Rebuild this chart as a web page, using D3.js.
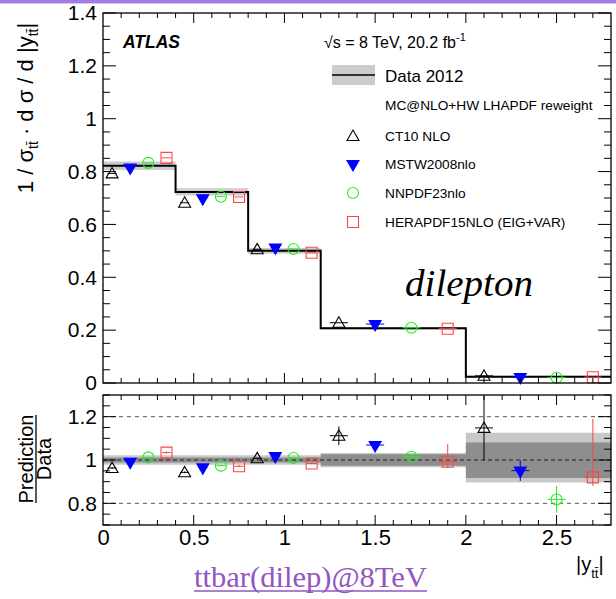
<!DOCTYPE html>
<html>
<head>
<meta charset="utf-8">
<script src="https://cdn.jsdelivr.net/npm/d3@7"></script>
<style>
  html, body { margin: 0; padding: 0; background: #fff; }
  svg { display: block; font-family: "Liberation Sans", Arial, Helvetica, sans-serif; }
</style>
</head>
<body>
<svg id="chart" width="616" height="599"></svg>
<script>
// ---------------- DATA ----------------
const binEdges = [0, 0.4, 0.8, 1.2, 2.0, 2.8];
const dataVals = [0.822, 0.723, 0.500, 0.207, 0.024];
const dataErr  = [0.016, 0.014, 0.011, 0.005, 0.003];

// ratio-panel uncertainty bands of data (up, down)
const bandInnerUp   = [0.012, 0.012, 0.012, 0.027, 0.081];
const bandInnerDown = [0.012, 0.012, 0.012, 0.027, 0.083];
const bandOuterUp   = [0.022, 0.022, 0.022, 0.032, 0.126];
const bandOuterDown = [0.022, 0.022, 0.022, 0.034, 0.104];

const seriesNames = ["CT10 NLO", "MSTW2008nlo", "NNPDF23nlo", "HERAPDF15NLO (EIG+VAR)"];

const ct10X   = [0.05, 0.45, 0.85, 1.3, 2.1];
const mstwX   = [0.15, 0.55, 0.95, 1.5, 2.3];
const nnpdfX  = [0.25, 0.65, 1.05, 1.7, 2.5];
const heraX   = [0.35, 0.75, 1.15, 1.9, 2.7];
const xErrHalf = [0.025, 0.025, 0.025, 0.05, 0.05];

const ct10Val  = [0.793, 0.682, 0.506, 0.228, 0.027];
const mstwVal  = [0.815, 0.699, 0.513, 0.223, 0.023];
const nnpdfVal = [0.833, 0.705, 0.507, 0.209, 0.020];
const heraVal  = [0.852, 0.704, 0.493, 0.2055, 0.022];

const ct10Ratio  = [0.963, 0.943, 1.008, 1.112, 1.148];
const mstwRatio  = [0.992, 0.966, 1.018, 1.069, 0.951];
const nnpdfRatio = [1.012, 0.974, 1.009, 1.015, 0.818];
const heraRatio  = [1.034, 0.971, 0.984, 0.992, 0.920];

const ct10RatioUp    = [0.004, 0.004, 0.004, 0.043, 0.150];
const ct10RatioDown  = [0.004, 0.004, 0.004, 0.043, 0.150];
const mstwRatioUp    = [0.003, 0.003, 0.003, 0.010, 0.048];
const mstwRatioDown  = [0.003, 0.003, 0.003, 0.010, 0.048];
const nnpdfRatioUp   = [0.003, 0.003, 0.003, 0.010, 0.062];
const nnpdfRatioDown = [0.003, 0.003, 0.003, 0.010, 0.062];
const heraRatioUp    = [0.006, 0.006, 0.006, 0.082, 0.270];
const heraRatioDown  = [0.004, 0.004, 0.004, 0.026, 0.040];

const topYTicks   = [0, 0.2, 0.4, 0.6, 0.8, 1, 1.2, 1.4];
const ratioYTicks = [0.8, 1, 1.2];
const xTickVals   = [0, 0.5, 1, 1.5, 2, 2.5];

// ---------------- LAYOUT ----------------
const SERIF = '"Liberation Serif", "Times New Roman", serif';
const svg = d3.select("#chart");
const left = 103, right = 611;
const topY0 = 13, topY1 = 383;
const botY0 = 395, botY1 = 525;

const x  = d3.scaleLinear().domain([0, 2.8]).range([left, right]);
const yT = d3.scaleLinear().domain([0, 1.4]).range([topY1, topY0]);
const yR = d3.scaleLinear().domain([0.7, 1.3]).range([botY1, botY0]);

// purple bar at very top
svg.append("rect").attr("x", 0).attr("y", 0).attr("width", 616).attr("height", 3).attr("fill", "#a57bde");
svg.append("rect").attr("x", 0).attr("y", 3).attr("width", 616).attr("height", 1).attr("fill", "#d9c6f2");

const series = [
  { name: seriesNames[0], xs: ct10X,  v: ct10Val,  r: ct10Ratio,  up: ct10RatioUp,  dn: ct10RatioDown,  color: "#000000", type: "tri",  fill: "none" },
  { name: seriesNames[1], xs: mstwX,  v: mstwVal,  r: mstwRatio,  up: mstwRatioUp,  dn: mstwRatioDown,  color: "#0000ff", type: "itri", fill: "#0000ff" },
  { name: seriesNames[2], xs: nnpdfX, v: nnpdfVal, r: nnpdfRatio, up: nnpdfRatioUp, dn: nnpdfRatioDown, color: "#22ee22", type: "circ", fill: "none" },
  { name: seriesNames[3], xs: heraX,  v: heraVal,  r: heraRatio,  up: heraRatioUp,  dn: heraRatioDown,  color: "#ff4444", type: "sq",   fill: "none" }
];

function markerPath(type) {
  if (type === "tri" || type === "itri") return d3.symbol().type(d3.symbolTriangle).size(62)();
  if (type === "circ") return d3.symbol().type(d3.symbolCircle).size(95)();
  return d3.symbol().type(d3.symbolSquare).size(121)();
}
function drawMarker(g, cx, cy, s) {
  return g.append("path").attr("d", markerPath(s.type))
    .attr("transform", `translate(${cx},${cy})` + (s.type === "itri" ? " rotate(180)" : "") + (s.type === "tri" ? " translate(0,1)" : ""))
    .attr("stroke", s.color).attr("stroke-width", 1.1)
    .attr("fill", s.fill);
}

// ---------------- TOP PANEL ----------------
const topG = svg.append("g");
const stepData = dataVals.map((v, i) => ({ x: binEdges[i], v: v, e: dataErr[i] }));
stepData.push({ x: binEdges[binEdges.length - 1], v: dataVals[dataVals.length - 1], e: dataErr[dataErr.length - 1] });

topG.append("path").datum(stepData)
  .attr("d", d3.area().curve(d3.curveStepAfter).x(d => x(d.x)).y0(d => yT(d.v - d.e)).y1(d => yT(d.v + d.e)))
  .attr("fill", "#cccccc");
topG.append("path").datum(stepData)
  .attr("d", d3.line().curve(d3.curveStepAfter).x(d => x(d.x)).y(d => yT(d.v)))
  .attr("fill", "none").attr("stroke", "#000").attr("stroke-width", 2);

series.forEach(s => {
  s.xs.forEach((xv, i) => {
    topG.append("line").attr("x1", x(xv - xErrHalf[i])).attr("x2", x(xv + xErrHalf[i]))
      .attr("y1", yT(s.v[i])).attr("y2", yT(s.v[i])).attr("stroke", s.color).attr("stroke-width", 1);
    drawMarker(topG, x(xv), yT(s.v[i]), s);
  });
});

// frame + ticks
function frame(g, y0, y1) {
  g.append("rect").attr("x", left).attr("y", y0).attr("width", right - left).attr("height", y1 - y0)
    .attr("fill", "none").attr("stroke", "#000").attr("stroke-width", 1.3);
}
function xTicks(g, y0, y1, majLen, minLen) {
  const minors = d3.range(1, 28).map(i => i / 10);
  minors.forEach(t => {
    const isMaj = Math.abs(t * 2 - Math.round(t * 2)) < 1e-6;
    const len = isMaj ? majLen : minLen;
    g.append("line").attr("x1", x(t)).attr("x2", x(t)).attr("y1", y1).attr("y2", y1 - len).attr("stroke", "#000").attr("stroke-width", 1);
    g.append("line").attr("x1", x(t)).attr("x2", x(t)).attr("y1", y0).attr("y2", y0 + len).attr("stroke", "#000").attr("stroke-width", 1);
  });
}
function yTicks(g, scale, lo, hi, majorStep, majLen, minLen) {
  const n = Math.round((hi - lo) / 0.05);
  for (let i = 0; i <= n; i++) {
    const t = lo + i * 0.05;
    const isMaj = Math.abs(t / majorStep - Math.round(t / majorStep)) < 1e-6;
    const len = isMaj ? majLen : minLen;
    g.append("line").attr("x1", left).attr("x2", left + len).attr("y1", scale(t)).attr("y2", scale(t)).attr("stroke", "#000").attr("stroke-width", 1);
    g.append("line").attr("x1", right).attr("x2", right - len).attr("y1", scale(t)).attr("y2", scale(t)).attr("stroke", "#000").attr("stroke-width", 1);
  }
}
xTicks(topG, topY0, topY1, 10, 5);
yTicks(topG, yT, 0, 1.4, 0.2, 13, 7);
frame(topG, topY0, topY1);

const yAxisTop = d3.axisLeft(yT).tickValues(topYTicks).tickSize(0).tickPadding(6).tickFormat(d3.format("~g"));
const yat = svg.append("g").attr("transform", `translate(${left},0)`).call(yAxisTop);
yat.select(".domain").remove();
yat.selectAll("text").attr("font-size", 21).style("font-family", '"Liberation Sans", Arial, sans-serif').attr("fill", "#000");

// y label top
const yl = svg.append("text").attr("transform", "translate(33,108) rotate(-90)")
  .attr("text-anchor", "middle").attr("font-size", 22).attr("fill", "#000");
yl.append("tspan").text("1 / σ");
yl.append("tspan").attr("dy", 5).attr("font-size", 14).text("tt\u0304");
yl.append("tspan").attr("dy", -5).text(" · d σ / d |y");
yl.append("tspan").attr("dy", 5).attr("font-size", 14).text("tt\u0304");
yl.append("tspan").attr("dy", -5).text("|");

// ATLAS label
svg.append("text").attr("x", 123).attr("y", 48).attr("font-size", 17.5).attr("font-weight", "bold").attr("font-style", "italic").text("ATLAS");

// energy label
const el = svg.append("text").attr("x", 324).attr("y", 48).attr("font-size", 16);
el.append("tspan").text("√s = 8 TeV, 20.2 fb");
el.append("tspan").attr("dy", -7).attr("font-size", 11).text("-1");

// legend
svg.append("rect").attr("x", 332).attr("y", 65).attr("width", 43).attr("height", 20).attr("fill", "#cccccc");
svg.append("line").attr("x1", 332).attr("x2", 375).attr("y1", 75).attr("y2", 75).attr("stroke", "#000").attr("stroke-width", 1.5);
svg.append("text").attr("x", 385).attr("y", 82).attr("font-size", 17).text("Data 2012");
svg.append("text").attr("x", 385).attr("y", 110).attr("font-size", 13.7).text("MC@NLO+HW LHAPDF reweight");
const legY = [136, 164, 193, 222];
series.forEach((s, i) => {
  drawMarker(svg, 353, legY[i], s);
  svg.append("text").attr("x", 385).attr("y", legY[i] + 5).attr("font-size", 13.7).text(s.name);
});

// dilepton
svg.append("text").attr("x", 405).attr("y", 296).style("font-family", SERIF)
  .style("font-style", "italic").attr("font-size", 37).attr("textLength", 128).attr("lengthAdjust", "spacingAndGlyphs").text("dilepton");

// ---------------- RATIO PANEL ----------------
const botG = svg.append("g");
const bandData = (up, dn) => {
  const arr = binEdges.slice(0, -1).map((e, i) => ({ x: e, u: up[i], d: dn[i] }));
  arr.push({ x: binEdges[binEdges.length - 1], u: up[up.length - 1], d: dn[dn.length - 1] });
  return arr;
};
botG.append("path").datum(bandData(bandOuterUp, bandOuterDown))
  .attr("d", d3.area().curve(d3.curveStepAfter).x(d => x(d.x)).y0(d => yR(1 - d.d)).y1(d => yR(1 + d.u)))
  .attr("fill", "#c8c8c8");
botG.append("path").datum(bandData(bandInnerUp, bandInnerDown))
  .attr("d", d3.area().curve(d3.curveStepAfter).x(d => x(d.x)).y0(d => yR(1 - d.d)).y1(d => yR(1 + d.u)))
  .attr("fill", "#8e8e8e");

[0.8, 1.2].forEach(v => {
  botG.append("line").attr("x1", left).attr("x2", right).attr("y1", yR(v)).attr("y2", yR(v))
    .attr("stroke", "#555").attr("stroke-width", 1).attr("stroke-dasharray", "4,4");
});
botG.append("line").attr("x1", left).attr("x2", right).attr("y1", yR(1)).attr("y2", yR(1))
  .attr("stroke", "#222").attr("stroke-width", 1.2).attr("stroke-dasharray", "4,3");

const clip = svg.append("clipPath").attr("id", "rclip");
clip.append("rect").attr("x", left).attr("y", botY0).attr("width", right - left).attr("height", botY1 - botY0);
const ptsG = botG.append("g").attr("clip-path", "url(#rclip)");
series.forEach(s => {
  s.xs.forEach((xv, i) => {
    const cx = x(xv), cy = yR(s.r[i]);
    ptsG.append("line").attr("x1", cx).attr("x2", cx).attr("y1", yR(s.r[i] + s.up[i])).attr("y2", yR(s.r[i] - s.dn[i]))
      .attr("stroke", s.color).attr("stroke-width", 1);
    ptsG.append("line").attr("x1", x(xv - xErrHalf[i])).attr("x2", x(xv + xErrHalf[i])).attr("y1", cy).attr("y2", cy)
      .attr("stroke", s.color).attr("stroke-width", 1);
    drawMarker(ptsG, cx, cy, s);
  });
});

xTicks(botG, botY0, botY1, 10, 5);
yTicks(botG, yR, 0.7, 1.3, 0.2, 13, 7);
frame(botG, botY0, botY1);

const yAxisR = d3.axisLeft(yR).tickValues(ratioYTicks).tickSize(0).tickPadding(6).tickFormat(d3.format("~g"));
const yar = svg.append("g").attr("transform", `translate(${left},0)`).call(yAxisR);
yar.select(".domain").remove();
yar.selectAll("text").attr("font-size", 21).style("font-family", '"Liberation Sans", Arial, sans-serif').attr("fill", "#000");

const xAxisR = d3.axisBottom(x).tickValues(xTickVals).tickSize(0).tickPadding(4).tickFormat(d3.format("~g"));
const xar = svg.append("g").attr("transform", `translate(0,${botY1})`).call(xAxisR);
xar.select(".domain").remove();
xar.selectAll("text").attr("font-size", 22).style("font-family", '"Liberation Sans", Arial, sans-serif').attr("fill", "#000");

// ratio y label
const rl = svg.append("g").attr("transform", "translate(0,459) rotate(-90)");
rl.append("text").attr("x", 0).attr("y", 33).attr("text-anchor", "middle").attr("font-size", 20).text("Prediction");
rl.append("line").attr("x1", -44).attr("x2", 44).attr("y1", 36).attr("y2", 36).attr("stroke", "#000").attr("stroke-width", 1.3);
rl.append("text").attr("x", 0).attr("y", 51).attr("text-anchor", "middle").attr("font-size", 20).text("Data");

// x label
const xl = svg.append("text").attr("x", 576).attr("y", 571).attr("font-size", 20);
xl.append("tspan").text("|y");
xl.append("tspan").attr("dy", 7).attr("font-size", 13).text("tt\u0304");
xl.append("tspan").attr("dy", -7).text("|");

// bottom link text
svg.append("text").attr("x", 194).attr("y", 587)
  .style("font-family", SERIF).attr("font-size", 30)
  .attr("fill", "#9455c4").attr("textLength", 233).attr("lengthAdjust", "spacingAndGlyphs").text("ttbar(dilep)@8TeV");
svg.append("line").attr("x1", 194).attr("x2", 427).attr("y1", 591).attr("y2", 591).attr("stroke", "#9455c4").attr("stroke-width", 1.3);
</script>
</body>
</html>
